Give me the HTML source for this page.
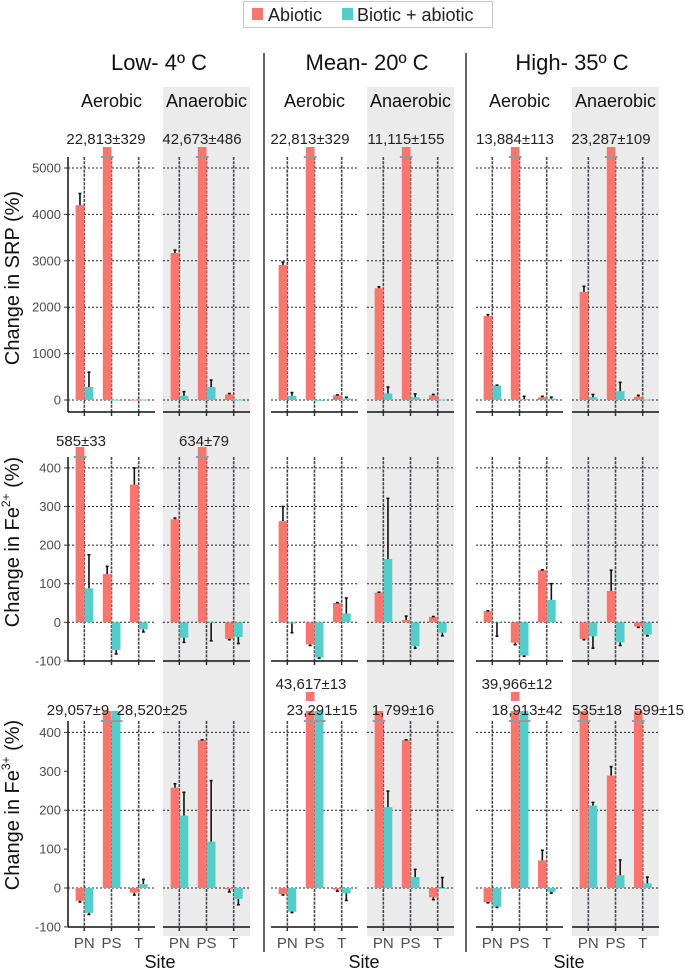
<!DOCTYPE html>
<html><head><meta charset="utf-8"><style>
html,body{margin:0;padding:0;background:#fff;}
svg{display:block;font-family:"Liberation Sans",Arial,sans-serif;}
</style></head><body>
<svg id="chart" width="685" height="969" viewBox="0 0 685 969">
<g id="bg"></g>
<g>
  <rect x="243.5" y="1.5" width="249" height="26" fill="#fff" stroke="#c8c8c8"/>
  <rect x="252" y="8" width="11" height="12" fill="#F8766D"/>
  <text x="268" y="21" font-size="18" fill="#222">Abiotic</text>
  <rect x="342" y="8" width="11" height="12" fill="#54CDCB"/>
  <text x="357" y="21" font-size="18" fill="#222">Biotic + abiotic</text>
</g>
<g font-size="22" fill="#111" text-anchor="middle">
  <text x="159" y="70">Low- 4º C</text>
  <text x="367" y="70">Mean- 20º C</text>
  <text x="572" y="70">High- 35º C</text>
</g>
<line x1="264" y1="53" x2="264" y2="952" stroke="#333" stroke-width="1.5"/>
<line x1="466" y1="53" x2="466" y2="952" stroke="#333" stroke-width="1.5"/>
<g id="plot"></g>
<g font-size="15" fill="#222" text-anchor="middle">
  <text x="106" y="144">22,813±329</text>
  <text x="202" y="144">42,673±486</text>
  <text x="310" y="144">22,813±329</text>
  <text x="406" y="144">11,115±155</text>
  <text x="515" y="144">13,884±113</text>
  <text x="611" y="144">23,287±109</text>
  <text x="81" y="446">585±33</text>
  <text x="204" y="446">634±79</text>
  <text x="78" y="715">29,057±9</text>
  <text x="152" y="715">28,520±25</text>
  <text x="311" y="689">43,617±13</text>
  <text x="322" y="715">23,291±15</text>
  <text x="403" y="715">1,799±16</text>
  <text x="517" y="689">39,966±12</text>
  <text x="527" y="715">18,913±42</text>
  <text x="597" y="715">535±18</text>
  <text x="659" y="715">599±15</text>
</g>
<g font-size="20" fill="#111" text-anchor="middle">
  <text transform="translate(19,278) rotate(-90)">Change in SRP (%)</text>
  <text transform="translate(19,542) rotate(-90)">Change in Fe<tspan font-size="12" dy="-9">2+</tspan><tspan dy="9"> (%)</tspan></text>
  <text transform="translate(19,805) rotate(-90)">Change in Fe<tspan font-size="12" dy="-9">3+</tspan><tspan dy="9"> (%)</tspan></text>
</g>
<g font-size="18" fill="#111" text-anchor="middle">
  <text x="160" y="968">Site</text>
  <text x="364" y="968">Site</text>
  <text x="569" y="968">Site</text>
</g>
</svg>
<script>
const sites = ["PN","PS","T"];
const panelNames = ["low-aerobic","low-anaerobic","mean-aerobic","mean-anaerobic","high-aerobic","high-anaerobic"];
const subTitles = ["Aerobic","Anaerobic","Aerobic","Anaerobic","Aerobic","Anaerobic"];
const rowNames = ["srp","fe2","fe3"];
const srpTicks = [0,1000,2000,3000,4000,5000];
const fe2Ticks = [-100,0,100,200,300,400];
const fe3Ticks = [-100,0,100,200,300,400];
const fe3Grid = [0,200,400];
const fe2Grid = [0,100,200,300,400];
const srpGrid = [0,1000,2000,3000,4000,5000];

const srpAbiotic = [[4200,22813,5],[3170,42673,120],[2910,22813,100],[2410,11115,100],[1810,13884,60],[2330,23287,70]];
const srpAbioticErr = [[250,329,0],[60,486,20],[60,329,10],[30,155,20],[30,113,20],[120,109,30]];
const srpBiotic = [[280,5,10],[90,280,5],[90,0,30],[140,60,10],[310,20,30],[60,190,10]];
const srpBioticErr = [[320,0,0],[90,150,0],[70,0,30],[140,70,0],[10,60,30],[60,190,0]];

const fe2Abiotic = [[585,125,357],[267,634,-43],[262,-57,50],[77,6,14],[29,-53,135],[-43,81,-11]];
const fe2AbioticErr = [[33,20,43],[3,79,2],[38,3,1],[1,10,1],[1,5,1],[2,54,2]];
const fe2Biotic = [[88,-72,-18],[-40,-2,-38],[-3,-91,23],[164,-62,-27],[-1,-86,58],[-36,-52,-32]];
const fe2BioticErr = [[87,10,7],[12,46,17],[24,2,40],[157,5,8],[35,2,42],[31,8,3]];

const fe3Abiotic = [[-33,29057,-12],[258,380,-3],[-16,43617,-4],[1799,380,-24],[-37,39966,71],[535,289,599]];
const fe3AbioticErr = [[3,9,6],[10,1,7],[2,13,4],[16,1,6],[1,12,26],[18,23,15]];
const fe3Biotic = [[-64,28520,10],[186,119,-28],[-61,23291,-14],[208,28,0],[-48,18913,-10],[212,33,12]];
const fe3BioticErr = [[4,25,12],[60,157,15],[2,15,18],[41,20,27],[2,42,3],[8,39,16]];

const NS = "http://www.w3.org/2000/svg";
const RED = "#F8766D", TEAL = "#54CDCB";
const panelLeft = [68,163,271,367,476,572];
const panelW = 87;
const rows = [
  {top:157,bottom:412,zero:400,px:0.0464,ticks:srpTicks,grid:srpGrid,a:srpAbiotic,ae:srpAbioticErr,b:srpBiotic,be:srpBioticErr},
  {top:457,bottom:661,zero:622.3,px:0.386,ticks:fe2Ticks,grid:fe2Grid,a:fe2Abiotic,ae:fe2AbioticErr,b:fe2Biotic,be:fe2BioticErr},
  {top:721,bottom:927,zero:888,px:0.389,ticks:fe3Ticks,grid:fe3Grid,a:fe3Abiotic,ae:fe3AbioticErr,b:fe3Biotic,be:fe3BioticErr}
];
function mk(tag, attrs, parent){const e=document.createElementNS(NS,tag);for(const k in attrs)e.setAttribute(k,attrs[k]);parent.appendChild(e);return e;}
function xSite(p,i){return panelLeft[p] + (i+0.6)*panelW/3.2;}
function yVal(r,v){return r.zero - v*r.px;}

const bg = document.getElementById("bg");
const plot = document.getElementById("plot");
for(let p=1;p<6;p+=2){
  const g = mk("rect",{x:panelLeft[p],y:87,width:panelW,height:849,fill:"#ebebeb"},bg);
  
  
}
for(let p=0;p<6;p++){
  const t = mk("text",{x:panelLeft[p]+panelW/2,y:107,"font-size":18,fill:"#111","text-anchor":"middle"},plot);
  t.textContent = subTitles[p];
  
  
}
rows.forEach((r,ri)=>{
  const ax = mk("line",{x1:68,y1:r.top,x2:68,y2:r.bottom,stroke:"#111","stroke-width":1.5},plot);
  
  
  r.ticks.forEach(t=>{
    const y=yVal(r,t);
    const tk = mk("line",{x1:64,y1:y,x2:68,y2:y,stroke:"#333","stroke-width":1},plot);
    
    
    const tl = mk("text",{x:61,y:y+4.5,"font-size":13,fill:"#4d4d4d","text-anchor":"end"},plot);
    tl.textContent = t;
    
    
  });
  for(let p=0;p<6;p++){
    const L=panelLeft[p];
    r.grid.forEach(v=>{
      const y=yVal(r,v);
      const gl = mk("line",{x1:L,y1:y,x2:L+panelW,y2:y,stroke:"#222","stroke-width":1,"stroke-dasharray":"2,2"},plot);
      
      
    });
    for(let i=0;i<3;i++){
      const x=xSite(p,i);
      const vl = mk("line",{x1:x,y1:r.top,x2:x,y2:r.bottom,stroke:"#4a4550","stroke-width":1.6,"stroke-dasharray":"3,1.2"},plot);
      
      
    }
    const xa = mk("line",{x1:L,y1:r.bottom,x2:L+panelW,y2:r.bottom,stroke:"#111","stroke-width":1.5},plot);
    
    
    for(let i=0;i<3;i++){
      const x=xSite(p,i);
      const tk = mk("line",{x1:x,y1:r.bottom,x2:x,y2:r.bottom+4,stroke:"#333","stroke-width":1.5},plot);
      
      
      const series=[[r.a,r.ae,RED,-1,'abiotic'],[r.b,r.be,TEAL,0,'biotic']];
      series.forEach(s=>{
        const v=s[0][p][i], e=s[1][p][i];
        const bx = x + s[3]*8.7 + (s[3]===0?0.3:0);
        const clipTop = r.top-10;
        let yv=yVal(r,v), clipped=false;
        if(yv<clipTop){yv=clipTop;clipped=true;}
        const y0=r.zero;
        const bar = mk("rect",{x:bx,y:Math.min(yv,y0),width:8.7,height:Math.max(Math.abs(y0-yv),0.8),fill:s[2]},plot);
        
        
        if(clipped){
          const bm = mk("line",{x1:bx-2,y1:r.top,x2:bx+10.7,y2:r.top,stroke:"#9a9a9a","stroke-width":2},plot);
          
          
        } else if(e>0){
          const ey=yVal(r, v>=0 ? v+e : v-e);
          const cx=bx+4.35;
          const eb = mk("line",{x1:cx,y1:yVal(r,v),x2:cx,y2:ey,stroke:"#111","stroke-width":1.6},plot);
          
          
          const ec = mk("line",{x1:cx-1.5,y1:ey,x2:cx+1.5,y2:ey,stroke:"#111","stroke-width":1.6},plot);
          
          
        }
      });
      if(ri===2){
        const sl = mk("text",{x:x,y:948,"font-size":15,fill:"#4d4d4d","text-anchor":"middle"},plot);
        sl.textContent = sites[i];
        
        
      }
    }
  }
});
[2,4].forEach(p=>{
  const x=xSite(p,1)-8.7;
  const m = mk("rect",{x:x,y:692,width:8.7,height:9,fill:RED},plot);
  
  
});
</script>
</body></html>
